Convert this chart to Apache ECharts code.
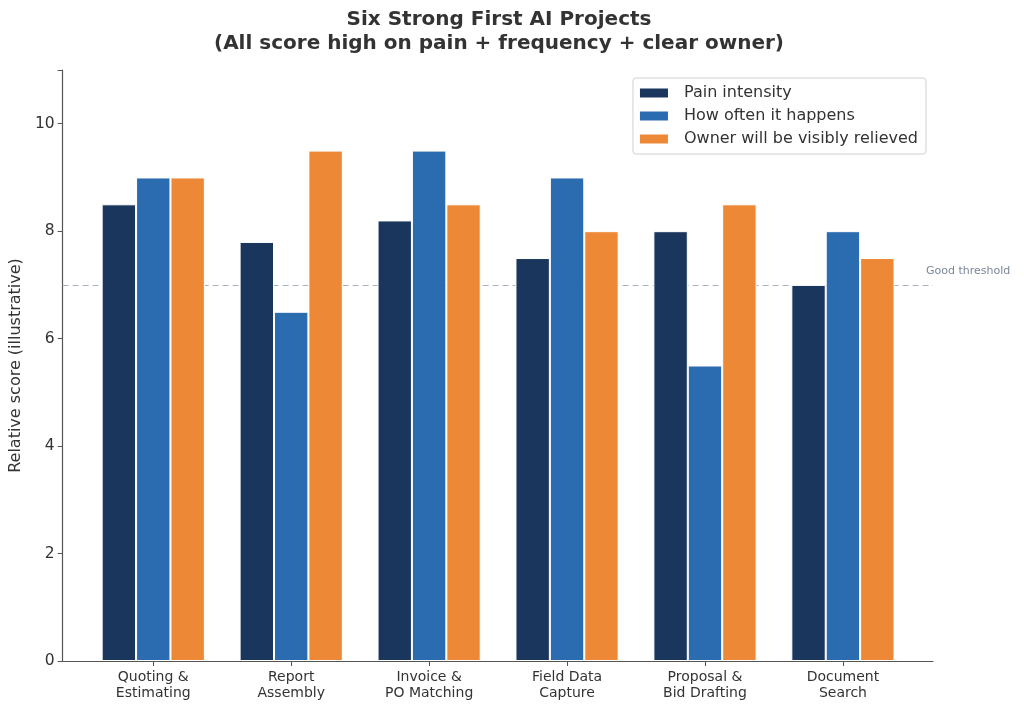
<!DOCTYPE html>
<html>
<head>
<meta charset="utf-8">
<script src="https://cdn.jsdelivr.net/npm/echarts@6/dist/echarts.min.js"></script>
<style>
  html, body { margin: 0; padding: 0; background: #fff; }
  #chart { width: 1024px; height: 711px; }
</style>
</head>
<body>
<div id="chart"></div>
<script>
const categories = [
  "Quoting &\nEstimating",
  "Report\nAssembly",
  "Invoice &\nPO Matching",
  "Field Data\nCapture",
  "Proposal &\nBid Drafting",
  "Document\nSearch"
];
const painIntensity = [8.5, 7.8, 8.2, 7.5, 8.0, 7.0];
const howOften = [9.0, 6.5, 9.5, 9.0, 5.5, 8.0];
const ownerRelieved = [9.0, 9.5, 8.5, 8.0, 8.5, 7.5];
const seriesNames = ["Pain intensity", "How often it happens", "Owner will be visibly relieved"];
const threshold = 7;
const thresholdLabel = "Good threshold";

const COLORS = ["#1b365d", "#2b6cb0", "#ed8936"];
const FONT = "DejaVu Sans";

function barSeries(name, values, color) {
  return {
    type: "bar",
    name,
    xAxisIndex: 0,
    yAxisIndex: 0,
    z: 3,
    data: values,
    barWidth: 34.4,
    barGap: "0%",
    itemStyle: { color, borderColor: "#ffffff", borderWidth: 1 },
    animation: false
  };
}

const chart = echarts.init(document.getElementById("chart"), null, { renderer: "canvas" });
chart.setOption({
  backgroundColor: "#ffffff",
  animation: false,
  title: {
    text: "Six Strong First AI Projects\n(All score high on pain + frequency + clear owner)",
    left: 494,
    textAlign: "center",
    top: 3,
    textStyle: { fontFamily: FONT, fontSize: 20, fontWeight: "bold", color: "#333333", lineHeight: 24 }
  },
  legend: {
    orient: "vertical",
    right: 98,
    top: 78,
    padding: [7, 8, 7, 5],
    itemGap: 7,
    itemWidth: 30,
    itemHeight: 11,
    borderColor: "#d0d0d0",
    borderWidth: 1,
    borderRadius: 3,
    icon: "rect",
    data: seriesNames,
    textStyle: { fontFamily: FONT, fontSize: 16, color: "#333333", lineHeight: 16, padding: [0, 0, 0, 10] }
  },
  grid: [
    { left: 84.3, right: 112.1, top: 70, bottom: 50 },
    { left: 62, right: 91, top: 70, bottom: 50 }
  ],
  xAxis: [
    {
      type: "category",
      gridIndex: 0,
      data: categories,
      axisLine: { show: false },
      axisTick: { show: true, alignWithLabel: true, length: 5, lineStyle: { color: "#555555" } },
      axisLabel: { fontFamily: FONT, fontSize: 14, color: "#333333", lineHeight: 16, margin: 8 },
      splitLine: { show: false }
    },
    {
      type: "value",
      gridIndex: 1,
      min: 0,
      max: 1,
      axisLine: { show: true, lineStyle: { color: "#555555", width: 1.2 } },
      axisTick: { show: false },
      axisLabel: { show: false },
      splitLine: { show: false }
    }
  ],
  yAxis: [
    {
      type: "value",
      gridIndex: 0,
      min: 0,
      max: 11,
      show: false,
      splitLine: { show: false }
    },
    {
      type: "value",
      gridIndex: 1,
      min: 0,
      max: 11,
      interval: 2,
      name: "Relative score (illustrative)",
      nameLocation: "middle",
      nameGap: 38,
      nameTextStyle: { fontFamily: FONT, fontSize: 16, color: "#333333" },
      axisLine: { show: true, lineStyle: { color: "#555555", width: 1.2 } },
      axisTick: { show: true, length: 5, lineStyle: { color: "#555555" } },
      axisLabel: {
        fontFamily: FONT, fontSize: 15.5, color: "#333333", margin: 8,
        formatter: (v) => (v > 10 ? "" : String(v))
      },
      splitLine: { show: false }
    }
  ],
  series: [
    barSeries(seriesNames[0], painIntensity, COLORS[0]),
    barSeries(seriesNames[1], howOften, COLORS[1]),
    barSeries(seriesNames[2], ownerRelieved, COLORS[2]),
    {
      type: "line",
      xAxisIndex: 1,
      yAxisIndex: 1,
      z: 1,
      data: [],
      markLine: {
        silent: true,
        z: 1,
        symbol: "none",
        lineStyle: { color: "#aab2c2", type: [6, 4], width: 1.2 },
        label: {
          show: true,
          position: "end",
          formatter: thresholdLabel,
          fontFamily: FONT,
          fontSize: 11,
          color: "#7a869a",
          offset: [-12, -14]
        },
        data: [{ yAxis: threshold }]
      }
    }
  ]
});
</script>
</body>
</html>
